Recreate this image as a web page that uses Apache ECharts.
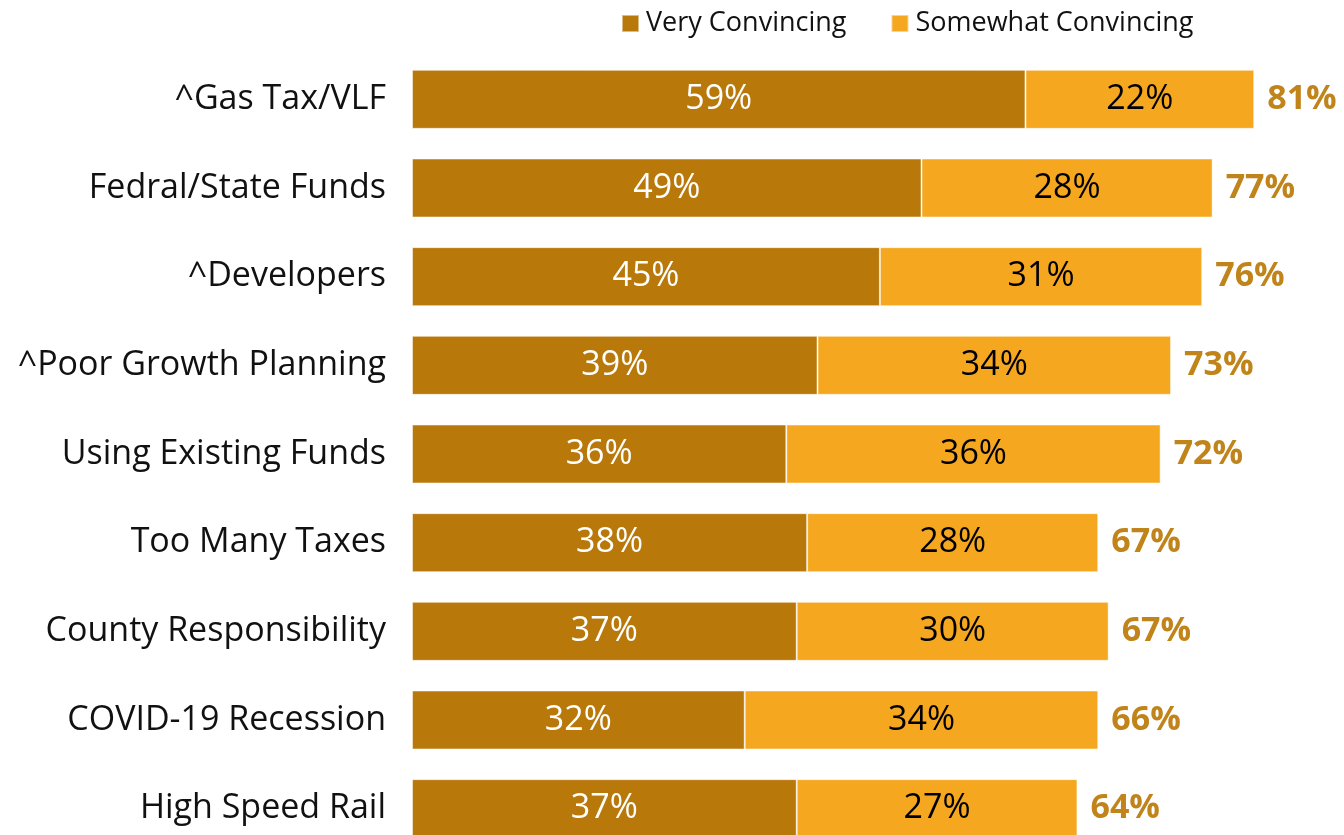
<!DOCTYPE html>
<html>
<head>
<meta charset="utf-8">
<script src="https://cdn.jsdelivr.net/npm/echarts@6/dist/echarts.min.js"></script>
<style>html,body{margin:0;padding:0;background:#fff;overflow:hidden}#c{width:1344px;height:860px}</style>
</head>
<body>
<div id="c"></div>
<script>
const categories = ["^Gas Tax/VLF","Fedral/State Funds","^Developers","^Poor Growth Planning","Using Existing Funds","Too Many Taxes","County Responsibility","COVID-19 Recession","High Speed Rail"];
const veryConvincing = [59,49,45,39,36,38,37,32,37];
const somewhatConvincing = [22,28,31,34,36,28,30,34,27];
const totals = [81,77,76,73,72,67,67,66,64];

const FONT = '"Open Sans", sans-serif';
const chart = echarts.init(document.getElementById('c'), null, {renderer:'canvas'});
chart.setOption({
  animation:false,
  legend:{
    top:10, left:621, padding:0,
    itemWidth:17, itemHeight:17, itemGap:44,
    icon:'rect',
    data:['Very Convincing','Somewhat Convincing'],
    textStyle:{fontFamily:FONT, fontSize:27, color:'#111', padding:[0,0,0,2]}
  },
  grid:{left:412, top:55, width:915, height:798},
  xAxis:{type:'value', min:0, max:88, show:false},
  yAxis:{type:'category', data:categories, inverse:true,
    axisLine:{show:false}, axisTick:{show:false},
    axisLabel:{fontFamily:FONT, fontSize:34, color:'#111', margin:26, padding:[4,0,0,0]}},
  series:[
    {name:'Very Convincing', type:'bar', stack:'a', barWidth:59, data:veryConvincing,
     itemStyle:{color:'#B8780A', borderColor:'rgba(255,255,255,0.5)', borderWidth:1},
     label:{show:true, position:'inside', formatter:'{c}%', color:'#fff', fontFamily:FONT, fontSize:34, padding:[4,0,0,0]}},
    {name:'Somewhat Convincing', type:'bar', stack:'a', barWidth:59, data:somewhatConvincing,
     itemStyle:{color:'#F5A81F', borderColor:'rgba(255,255,255,0.5)', borderWidth:1},
     label:{show:true, position:'inside', formatter:'{c}%', color:'#000', fontFamily:FONT, fontSize:34, padding:[4,0,0,0]}},
    {name:'Total', type:'bar', stack:'a', barWidth:59, data:totals.map(()=>0),
     itemStyle:{color:'transparent'},
     label:{show:true, position:'right', distance:13, padding:[4,0,0,0],
       formatter:p=>totals[p.dataIndex]+'%', color:'#C0841A', fontFamily:FONT, fontSize:34, fontWeight:'bold'}}
  ]
});
</script>
</body>
</html>
